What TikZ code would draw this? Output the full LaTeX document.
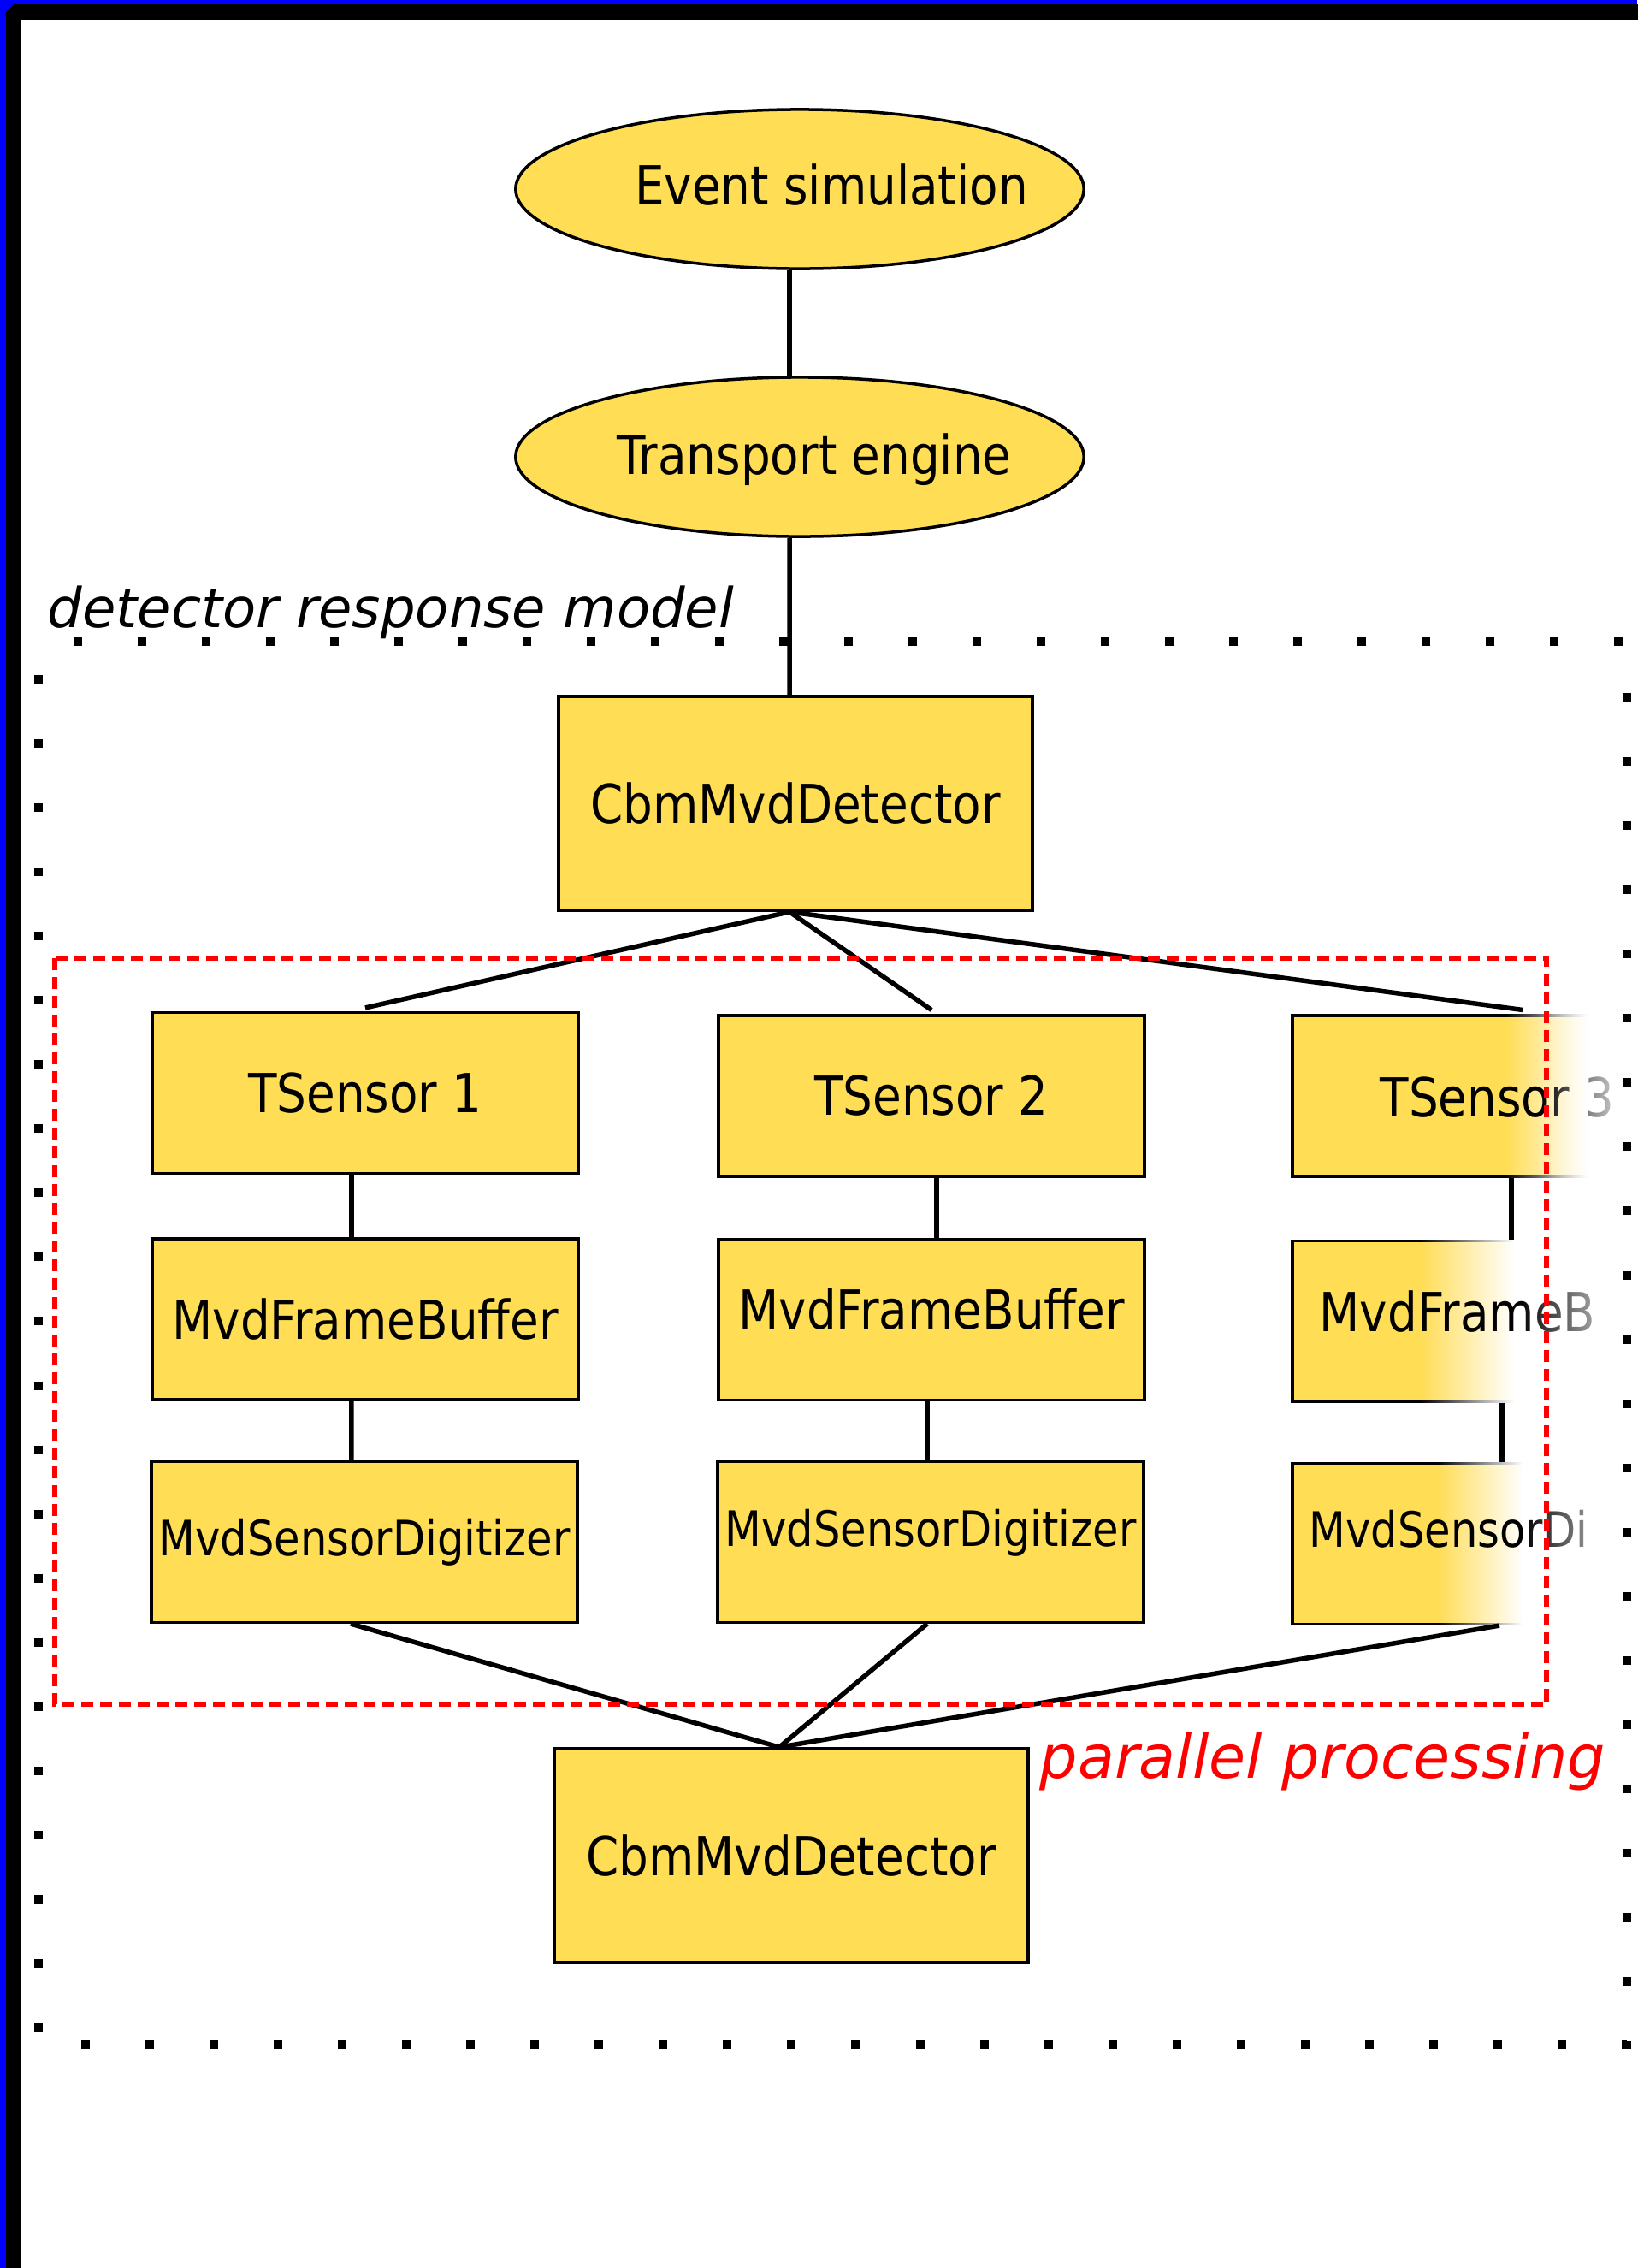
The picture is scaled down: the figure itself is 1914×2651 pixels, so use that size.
\documentclass[tikz,border=0pt]{standalone}
\usepackage{fontspec}
\setmainfont{DejaVu Sans}
\newfontfamily\boxfont[FakeStretch=0.87]{DejaVu Sans}
\usetikzlibrary{shapes.geometric,fadings}

\definecolor{boxyellow}{HTML}{FFDD55}
\tikzfading[name=fadeout, left color=transparent!100, right color=transparent!0]

\tikzset{
  lbltext/.style={font=\boxfont\fontsize{17.9pt}{21pt}\selectfont},
  blob/.style={ellipse, draw=black, line width=0.035cm, fill=boxyellow,
    minimum width=6.64cm, minimum height=1.86cm, inner sep=0pt},
  unit/.style={rectangle, draw=black, line width=0.035cm, fill=boxyellow,
    minimum width=4.98cm, minimum height=1.875cm, inner sep=0pt, lbltext},
  bigunit/.style={unit, minimum width=5.54cm, minimum height=2.5cm},
  digi/.style={unit, font=\boxfont\fontsize{16.2pt}{19pt}\selectfont},
  boxtext/.style={inner sep=0pt, anchor=base west, lbltext},
  link/.style={draw=black, line width=0.055cm},
  whiteout/.style={fill=white, path fading=fadeout},
  dotline/.style={draw=black, line width=0.1cm, dash pattern=on 0.1cm off 0.65cm}
}

\begin{document}
\begin{tikzpicture}[x=0.01cm, y=-0.01cm]
\useasboundingbox (0,0) rectangle (1914,2651);
% frame
\fill[blue] (0,0) rectangle (1914,2651);
\draw[line width=0.18cm, line join=bevel, fill=white] (16,14) rectangle (2100,2800);

% simulation chain
\node[blob, label={[lbltext, shift={(37,-5)}]center:Event simulation}] (ev) at (935,221) {};
\node[blob, label={[lbltext, shift={(17,3)}]center:Transport engine}] (tr) at (935,534) {};
\node[bigunit] (cmd1) at (930,939) {CbmMvdDetector};

% sensors
\node[unit] (ts1) at (427,1277.5) {TSensor 1};
\node[unit] (ts2) at (1089,1281) {TSensor 2};
\node[unit] (ts3) at (1760,1281) {};
\node[unit] (mfb1) at (427,1542) {MvdFrameBuffer};
\node[unit, text depth=0.25cm] (mfb2) at (1089,1542.5) {MvdFrameBuffer};
\node[unit] (mfb3) at (1760,1544.5) {};
\node[digi] (msd1) at (426,1802.5) {MvdSensorDigitizer};
\node[digi, text depth=0.34cm] (msd2) at (1088,1802.5) {MvdSensorDigitizer};
\node[unit] (msd3) at (1760,1804.5) {};
\node[bigunit] (cmd2) at (925,2169) {CbmMvdDetector};

% third sensor fades out
\fill[whiteout] (1760,1178) rectangle (1857,1384);
\fill[white] (1857,1178) rectangle (2100,1384);
\fill[whiteout] (1660,1442) rectangle (1770,1647);
\fill[white] (1770,1442) rectangle (2100,1647);
\fill[whiteout] (1680,1702) rectangle (1780,1907);
\fill[white] (1780,1702) rectangle (2100,1907);
\node[boxtext] (ts3txt) at (1613,1305) {TSensor 3};
\node[boxtext] (mfb3txt) at (1542,1556) {MvdFrameB};
\node[boxtext, font=\boxfont\fontsize{16.2pt}{19pt}\selectfont] (msd3txt) at (1530,1808) {MvdSensorDi};
\fill[whiteout, fill opacity=0.85] (1800,1178) rectangle (1895,1384);
\fill[whiteout, fill opacity=0.85] (1775,1442) rectangle (1895,1647);
\fill[whiteout, fill opacity=0.85] (1780,1702) rectangle (1895,1907);

% connections
\draw[link] ([xshift=-0.12cm]ev.south) -- ([xshift=-0.12cm]tr.north);
\draw[link] ([xshift=-0.12cm]tr.south) -- ([xshift=-0.07cm]cmd1.north);
\draw[link] ([xshift=-0.07cm]cmd1.south) -- ([yshift=0.04cm]ts1.north);
\draw[link] ([xshift=-0.07cm]cmd1.south) -- ([yshift=0.05cm]ts2.north);
\draw[link] ([xshift=-0.07cm]cmd1.south) -- ([xshift=0.2cm,yshift=0.05cm]ts3.north);
\draw[link] ([xshift=-0.16cm]ts1.south) -- ([xshift=-0.16cm]mfb1.north);
\draw[link] ([xshift=0.06cm]ts2.south) -- ([xshift=0.06cm]mfb2.north);
\draw[link] ([xshift=0.07cm]ts3.south) -- ([xshift=0.07cm]mfb3.north);
\draw[link] ([xshift=-0.16cm]mfb1.south) -- ([xshift=-0.15cm]msd1.north);
\draw[link] ([xshift=-0.05cm]mfb2.south) -- ([xshift=-0.04cm]msd2.north);
\draw[link] ([xshift=-0.04cm]mfb3.south) -- ([xshift=-0.04cm]msd3.north);
\draw[link] ([xshift=-0.16cm]msd1.south) -- ([xshift=-0.14cm]cmd2.north);
\draw[link] ([xshift=-0.04cm]msd2.south) -- ([xshift=-0.14cm]cmd2.north);
\draw[link] ([xshift=-0.07cm]msd3.south) -- ([xshift=-0.14cm]cmd2.north);

% regions
\draw[red, line width=0.06cm, dash pattern=on 0.14cm off 0.08cm] (64,1120) rectangle (1808,1992);
\draw[dotline] (45,789) -- (45,2390) -- (1902,2390) -- (1902,750) -- (45,750);
\node[anchor=base west, inner sep=0pt, font=\fontsize{18.2pt}{22pt}\selectfont\itshape] (drm) at (55,733) {detector response model};
\node[anchor=base west, inner sep=0pt, text=red, font=\fontsize{19.9pt}{24pt}\selectfont\itshape] (pp) at (1215,2078) {parallel processing};
\end{tikzpicture}
\end{document}
